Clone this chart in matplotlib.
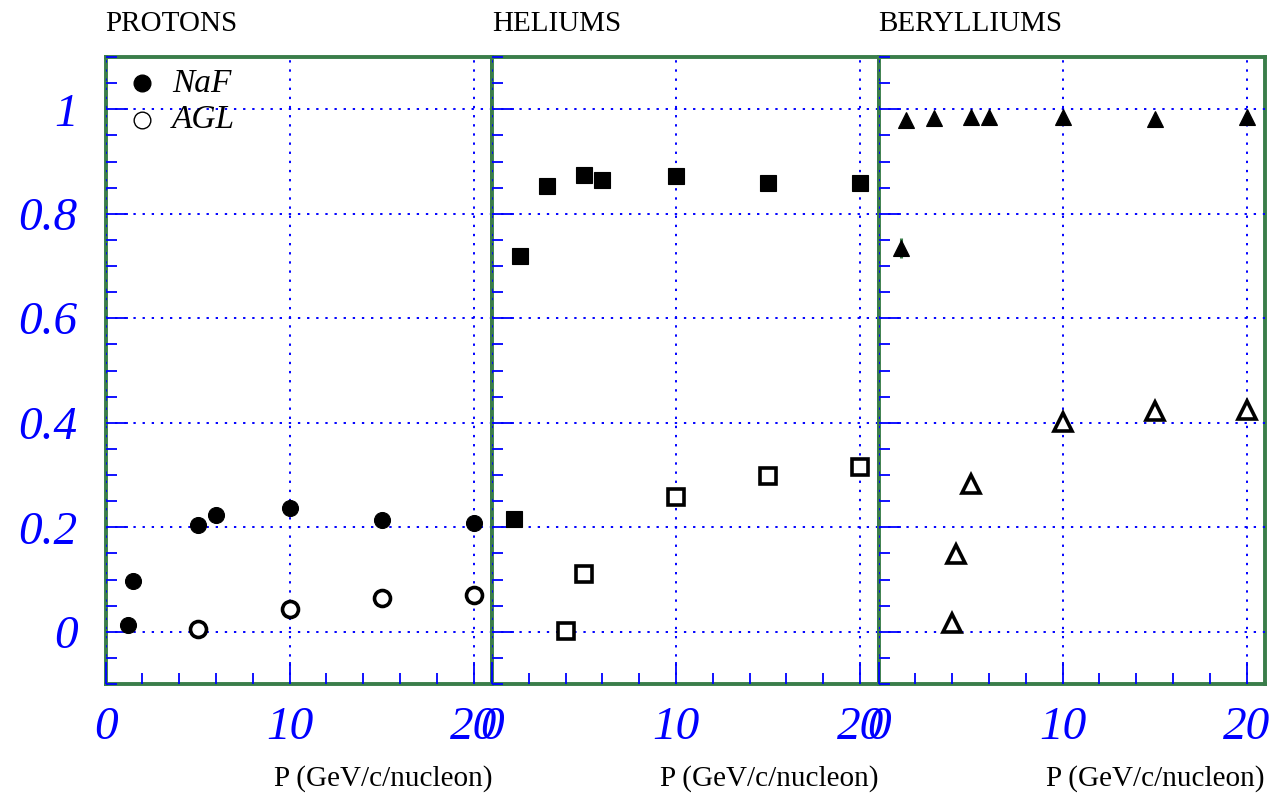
import matplotlib
matplotlib.use("Agg")
import matplotlib.pyplot as plt
from matplotlib.ticker import MultipleLocator, FixedLocator

# ---------------- data ----------------
panel_titles = ["PROTONS", "HELIUMS", "BERYLLIUMS"]
xlabel_text = "P (GeV/c/nucleon)"

p_naf_x = [1.2, 1.5, 5, 6, 10, 15, 20]
p_naf_y = [0.013, 0.098, 0.204, 0.224, 0.236, 0.213, 0.209]
p_naf_e = [0.004, 0.004, 0.004, 0.004, 0.004, 0.004, 0.004]
p_agl_x = [5, 10, 15, 20]
p_agl_y = [0.006, 0.043, 0.064, 0.070]
p_agl_e = [0.003, 0.003, 0.003, 0.003]

he_naf_x = [1.2, 1.5, 3, 5, 6, 10, 15, 20]
he_naf_y = [0.216, 0.720, 0.853, 0.875, 0.865, 0.872, 0.858, 0.858]
he_naf_e = [0.006, 0.012, 0.005, 0.005, 0.005, 0.005, 0.005, 0.005]
he_agl_x = [4, 5, 10, 15, 20]
he_agl_y = [0.002, 0.110, 0.258, 0.298, 0.315]
he_agl_e = [0.004, 0.006, 0.006, 0.006, 0.006]

be_naf_x = [1.2, 1.5, 3, 5, 6, 10, 15, 20]
be_naf_y = [0.735, 0.979, 0.983, 0.985, 0.985, 0.985, 0.981, 0.985]
be_naf_e = [0.019, 0.006, 0.005, 0.005, 0.005, 0.005, 0.005, 0.005]
be_agl_x = [4, 4.2, 5, 10, 15, 20]
be_agl_y = [0.017, 0.149, 0.283, 0.401, 0.422, 0.425]
be_agl_e = [0.006, 0.008, 0.014, 0.016, 0.017, 0.012]

x_major = [0, 10, 20]
x_tick_labels = ["0", "10", "20"]
y_major = [0, 0.2, 0.4, 0.6, 0.8, 1.0]
y_tick_labels = ["0", "0.2", "0.4", "0.6", "0.8", "1"]

legend_labels = ["NaF", "AGL"]

# ---------------- style ----------------
GREEN = "#3a7d4a"
BLUE = "#0000ff"
SERIF = "Liberation Serif"
plt.rcParams["font.family"] = [SERIF, "DejaVu Serif"]

W, H = 1276, 795
fig = plt.figure(figsize=(W / 100, H / 100), dpi=100)

left_px = [105.5, 492.0, 878.5]
pw = 386.5
top_px, bot_px = 57, 684

datasets = [
    (p_naf_x, p_naf_y, p_naf_e, p_agl_x, p_agl_y, p_agl_e, "o"),
    (he_naf_x, he_naf_y, he_naf_e, he_agl_x, he_agl_y, he_agl_e, "s"),
    (be_naf_x, be_naf_y, be_naf_e, be_agl_x, be_agl_y, be_agl_e, "^"),
]

axes = []
for i in range(3):
    ax = fig.add_axes([left_px[i] / W, (H - bot_px) / H, pw / W, (bot_px - top_px) / H])
    axes.append(ax)
    ax.set_xlim(0, 21)
    ax.set_ylim(-0.1, 1.1)

    ax.xaxis.set_major_locator(FixedLocator(x_major))
    ax.xaxis.set_minor_locator(MultipleLocator(2))
    ax.yaxis.set_major_locator(FixedLocator(y_major))
    ax.yaxis.set_minor_locator(MultipleLocator(0.05))
    ax.set_xticklabels(x_tick_labels)
    if i == 0:
        ax.set_yticklabels(y_tick_labels)
    else:
        ax.set_yticklabels([])

    ax.tick_params(axis="both", which="both", direction="in", color=BLUE,
                   top=False, right=False)
    ax.tick_params(axis="both", which="major", length=16, width=1.3)
    ax.tick_params(axis="both", which="minor", length=8, width=1.3)
    ax.tick_params(axis="y", which="major", labelsize=34, labelcolor=BLUE, pad=20)
    ax.tick_params(axis="x", which="major", labelsize=34, labelcolor=BLUE, pad=16)
    for lab in ax.get_xticklabels() + ax.get_yticklabels():
        lab.set_fontstyle("italic")
        lab.set_family(SERIF)

    ax.grid(True, which="major", color=BLUE, linestyle=(0, (1.2, 3.5)), linewidth=1.4)
    ax.set_axisbelow(False)

    for sp in ax.spines.values():
        sp.set_color(GREEN)
        sp.set_linewidth(2.8)
        sp.set_zorder(1.5)

    nx, ny, ne, ax_, ay, ae, mk = datasets[i]
    ax.errorbar(nx, ny, yerr=ne, fmt="none", ecolor=GREEN, elinewidth=2.2, capsize=0, zorder=3)
    ax.errorbar(ax_, ay, yerr=ae, fmt="none", ecolor=GREEN, elinewidth=2.2, capsize=0, zorder=3)
    ax.plot(nx, ny, linestyle="none", marker=mk, markersize=11.5,
            markerfacecolor="black", markeredgecolor="black", markeredgewidth=0.8, zorder=4)
    ms_o = 11.5 if mk != "^" else 12.5
    ax.plot(ax_, ay, linestyle="none", marker=mk, markersize=ms_o,
            markerfacecolor="white", markeredgecolor="black", markeredgewidth=2.6, zorder=4)

    ax.set_xlabel(xlabel_text, loc="right", fontsize=21, labelpad=11.5, family=SERIF)
    ax.text(0.0, 1.0 + 26 / (bot_px - top_px), panel_titles[i], transform=ax.transAxes,
            ha="left", va="baseline", fontsize=21, family=SERIF)

# legend in first panel
ax0 = axes[0]
ph = bot_px - top_px
leg_y = [(bot_px - 83.3) / ph, (bot_px - 120.0) / ph]
ax0.plot([(141.7 - left_px[0]) / pw], [leg_y[0]], marker="o", markersize=12,
         color="black", transform=ax0.transAxes, linestyle="none", clip_on=False, zorder=5)
ax0.plot([(141.7 - left_px[0]) / pw], [leg_y[1]], marker="o", markersize=12,
         markerfacecolor="white", markeredgecolor="black", markeredgewidth=1.0,
         transform=ax0.transAxes, linestyle="none", clip_on=False, zorder=5)
for lbl, yy in zip(legend_labels, leg_y):
    ax0.text((172 - left_px[0]) / pw, yy, lbl, transform=ax0.transAxes, ha="left",
             va="center", fontsize=24, fontstyle="italic", family=SERIF, zorder=5)

fig.savefig("out.png", dpi=100)
